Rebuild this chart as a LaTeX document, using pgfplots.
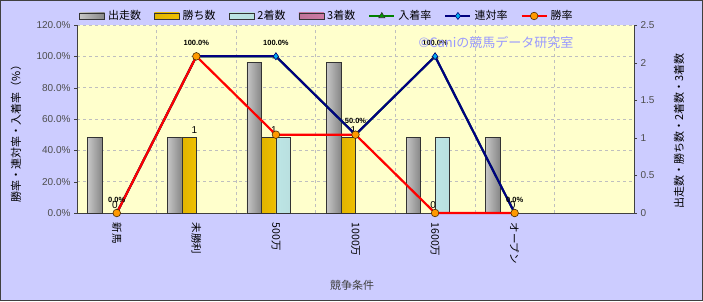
\documentclass[border=0pt]{standalone}
\usepackage{fontspec}
\setmainfont{Noto Sans CJK JP}
\newfontfamily\numfont{Liberation Sans}
\usepackage{pgfplots}
\pgfplotsset{compat=1.18}
\definecolor{bgl}{HTML}{CCCCFF}
\definecolor{plotbg}{HTML}{FFFFCC}
\definecolor{goldc}{HTML}{FFCC00}
\definecolor{cyanl}{HTML}{CCFFFF}
\definecolor{pinkc}{HTML}{FF99CC}
\definecolor{navyc}{HTML}{000080}
\definecolor{greenc}{HTML}{008000}
\definecolor{orangec}{HTML}{FF9900}
\definecolor{wmark}{HTML}{9999FF}
\tikzset{
  sSou/.style={draw=black!80, line width=0.7pt, left color=gray!45, middle color=white, right color=gray!95},
  sWin/.style={draw=black!80, line width=0.7pt, left color=goldc!88!black, middle color=goldc, right color=goldc!94!black},
  sSec/.style={draw=black!80, line width=0.7pt, left color=cyanl!80!gray, middle color=cyanl, right color=cyanl!75!gray},
  sThi/.style={draw=black!80, line width=0.7pt, left color=pinkc!75!black, middle color=pinkc, right color=pinkc!80!black},
}
\pgfplotsset{base/.style={width=557pt, height=188pt, scale only axis,
  at={(77pt,88pt)}, anchor=south west, xmin=-0.5, xmax=6.5,
  /pgf/number format/assume math mode=true},
  bS/.style={ybar, bar width=0.182, bar shift=-0.273, sSou},
  bW/.style={ybar, bar width=0.182, bar shift=-0.091, sWin},
  bC/.style={ybar, bar width=0.182, bar shift=0.091, sSec},
}
\begin{document}
\begin{tikzpicture}[x=1pt,y=1pt]
\fill[bgl] (0,0) rectangle (703,301);
\draw[black!75, line width=1pt] (0.5,0.5) rectangle (702.5,300.5);

% Axis A: background, grid, left ticks, category labels
\begin{axis}[base, ymin=0, ymax=120,
  axis background/.style={fill=plotbg},
  axis x line*=bottom, axis y line*=left,
  axis line style={black!75, line width=0.8pt},
  ytick={0,20,...,120},
  yticklabel={\pgfmathprintnumber[fixed,fixed zerofill,precision=1]{\tick}\%},
  yticklabel style={font=\numfont\fontsize{10}{10}\selectfont, text=black!70},
  ymajorgrids, xminorgrids,
  grid style={dashed, gray!50, line width=0.5pt},
  minor grid style={dashed, gray!50, line width=0.5pt},
  xtick={0,1,2,3,4,5},
  xticklabels={新馬,未勝利,500万,1000万,1600万,オープン},
  minor xtick={0.5,1.5,2.5,3.5,4.5,5.5},
  xtick style={draw=none},
  minor tick length=3pt,
  tick align=outside, major tick length=3pt,
  ytick style={black!75},
  xticklabel style={yshift=-3pt, rotate=-90, anchor=west, font=\fontsize{10.5}{10.5}\selectfont, text=black},
]
\addplot[draw=none] coordinates {(0,0)};
\end{axis}

% Axis B: bars (right axis)
\begin{axis}[base, ymin=0, ymax=2.5,
  axis x line=none, axis y line*=right,
  axis line style={black!75, line width=0.8pt},
  ytick={0,0.5,1,1.5,2,2.5},
  yticklabels={0,0.5,1,1.5,2,2.5},
  yticklabel style={font=\numfont\fontsize{10}{10}\selectfont, text=black!70},
  tick align=outside, major tick length=3pt, ytick style={black!75},
  clip=false,
]
% 出走数 (one plot per bar so each bar gets its own shading)
\addplot[bS] coordinates {(0,1)};
\addplot[bS] coordinates {(1,1)};
\addplot[bS] coordinates {(2,2)};
\addplot[bS] coordinates {(3,2)};
\addplot[bS] coordinates {(4,1)};
\addplot[bS] coordinates {(5,1)};
% 勝ち数
\addplot[bW] coordinates {(1,1)};
\addplot[bW] coordinates {(2,1)};
\addplot[bW] coordinates {(3,1)};
\addplot[ybar, bar width=0.182, bar shift=-0.091, draw=none, fill=none,
  nodes near coords, nodes near coords style={font=\numfont\fontsize{10}{10}\selectfont, text=black, yshift=1pt, xshift=-2pt}]
  coordinates {(0,0) (1,1) (2,1) (3,1) (4,0) (5,0)};
% 2着数
\addplot[bC] coordinates {(2,1)};
\addplot[bC] coordinates {(4,1)};
% 3着数 (all zero)
\addplot[ybar, bar width=0.182, bar shift=0.273, draw=none, fill=none] coordinates {(0,0) (1,0) (2,0) (3,0) (4,0) (5,0)};
\end{axis}

% Axis C: rate lines (left axis scale)
\begin{axis}[base, ymin=0, ymax=120, hide axis, clip=false,
  legend columns=-1,
  legend style={at={(axis description cs:0.448,1.048)}, anchor=center,
    draw=none, fill=none, font=\fontsize{11}{11}\selectfont,
    /tikz/every even column/.append style={column sep=12pt},
    /tikz/every odd column/.append style={column sep=2pt},
    inner sep=0pt, nodes={inner sep=1pt}},
  legend image code/.code={\draw[mark repeat=2,mark phase=2,#1] plot coordinates {(0pt,0pt) (12.5pt,0pt) (25pt,0pt)};},
]
\addlegendimage{legend image code/.code={\draw[sSou] (0pt,-3pt) rectangle (25pt,3pt);}}
\addlegendentry{出走数}
\addlegendimage{legend image code/.code={\draw[sWin] (0pt,-3pt) rectangle (25pt,3pt);}}
\addlegendentry{勝ち数}
\addlegendimage{legend image code/.code={\draw[sSec] (0pt,-3pt) rectangle (25pt,3pt);}}
\addlegendentry{2着数}
\addlegendimage{legend image code/.code={\draw[sThi] (0pt,-3pt) rectangle (25pt,3pt);}}
\addlegendentry{3着数}
\addplot[greenc, line width=2pt, mark=triangle*, mark size=3.5pt,
  mark options={fill=green!60!black, draw=black!80, line width=0.6pt}]
  coordinates {(0,0) (1,100) (2,100) (3,50) (4,100) (5,0)};
\addlegendentry{入着率}
\addplot[navyc, line width=2.2pt, mark=diamond*, mark size=3.5pt,
  mark options={fill=cyan, draw=navyc, line width=0.6pt},
  nodes near coords={\pgfmathprintnumber[fixed,fixed zerofill,precision=1]{\pgfplotspointmeta}\%},
  nodes near coords style={font=\numfont\bfseries\fontsize{7.5}{7.5}\selectfont, text=black, yshift=7pt}]
  coordinates {(0,0) (1,100) (2,100) (3,50) (4,100) (5,0)};
\addlegendentry{連対率}
\addplot[red, line width=2.2pt, mark=*, mark size=3.8pt,
  mark options={fill=orangec, draw=black!70!orangec, line width=0.6pt}]
  coordinates {(0,0) (1,100) (2,50) (3,50) (4,0) (5,0)};
\addlegendentry{勝率}
\end{axis}

\node[rotate=90, font=\fontsize{11}{11}\selectfont, text=black] at (16,170) {勝率・連対率・入着率（\%）};
\node[rotate=90, font=\fontsize{11}{11}\selectfont, text=black] at (679,170) {出走数・勝ち数・2着数・3着数};
\node[font=\fontsize{11}{11}\selectfont, text=black!75] at (352,16) {競争条件};
\node[font=\fontsize{13}{13}\selectfont, text=wmark] at (496,258) {©Caniの競馬データ研究室};
\pgfresetboundingbox
\useasboundingbox (0,0) rectangle (703,301);
\end{tikzpicture}
\end{document}
